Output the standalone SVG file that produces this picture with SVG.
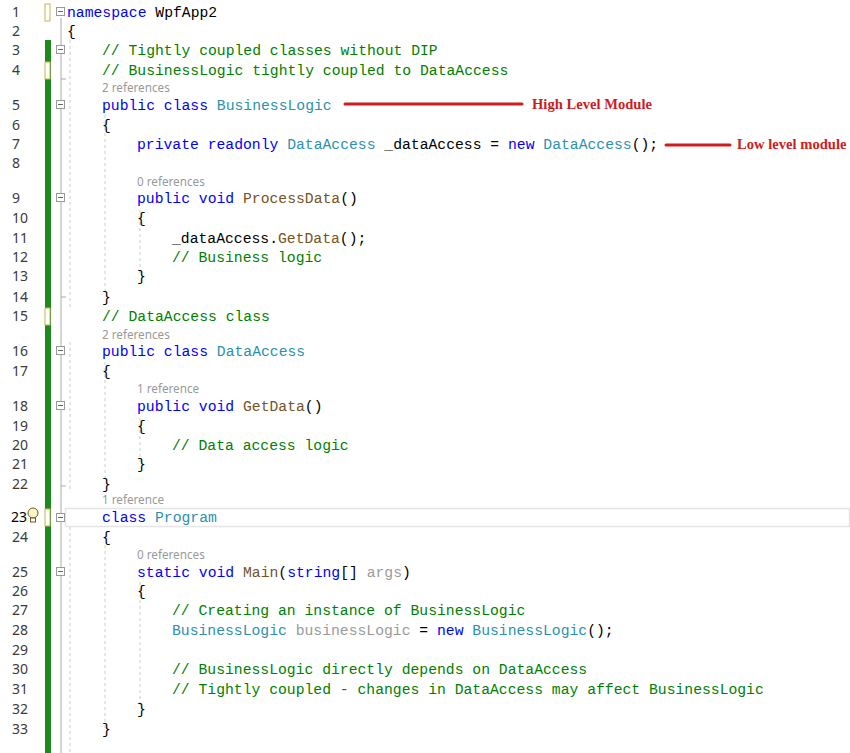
<svg xmlns="http://www.w3.org/2000/svg" width="850" height="753" viewBox="0 0 850 753">
<style>
text{font-family:"Liberation Mono","DejaVu Sans Mono",monospace;font-size:14.72px;white-space:pre}
.n{fill:#3a3a3a;font-family:"Noto Sans","Liberation Sans",sans-serif;font-size:14px}
.k{fill:#0000ff}.t{fill:#2b91af}.c{fill:#008000}.m{fill:#74531f}.p{fill:#000}.g{fill:#9a9a9a}
.r{fill:#999;font-family:"Noto Sans","Liberation Sans",sans-serif;font-size:11.7px}
.a{fill:#d01c1c;font-family:"Liberation Serif",serif;font-weight:bold;font-size:14.6px}
.f{fill:#fff;stroke:#999;stroke-width:1}
.gd{stroke:#ccc;stroke-dasharray:3,3;stroke-width:1}
</style>
<rect width="850" height="753" fill="#fff"/>
<g id="gutter">
<rect x="45" y="40" width="6" height="713" fill="#1e8a1e"/>
<rect x="45" y="4" width="5" height="17" fill="#fff" stroke="#c8b450"/>
<rect x="45" y="62" width="5" height="17" fill="#fff" stroke="#c8b450"/>
<rect x="45" y="308" width="5" height="17" fill="#fff" stroke="#c8b450"/>
<rect x="45" y="509" width="5" height="17" fill="#fff" stroke="#c8b450"/>
<line x1="61" y1="18" x2="61" y2="753" stroke="#aaa"/>
<rect x="65.5" y="508.5" width="784" height="18" fill="none" stroke="#e4e4e4" stroke-width="1.5"/>
<g>
<rect class="f" x="56.5" y="7.5" width="8" height="8"/><path d="M58 11.5h5" stroke="#666"/>
<rect class="f" x="56.5" y="45.5" width="8" height="8"/><path d="M58 49.5h5" stroke="#666"/>
<rect class="f" x="56.5" y="100.5" width="8" height="8"/><path d="M58 104.5h5" stroke="#666"/>
<rect class="f" x="56.5" y="193.5" width="8" height="8"/><path d="M58 197.5h5" stroke="#666"/>
<rect class="f" x="56.5" y="346.5" width="8" height="8"/><path d="M58 350.5h5" stroke="#666"/>
<rect class="f" x="56.5" y="401.5" width="8" height="8"/><path d="M58 405.5h5" stroke="#666"/>
<rect class="f" x="56.5" y="513.5" width="8" height="8"/><path d="M58 517.5h5" stroke="#666"/>
<rect class="f" x="56.5" y="567.5" width="8" height="8"/><path d="M58 571.5h5" stroke="#666"/>
</g>
<path d="M61 79h5M61 297h5M61 486h5" stroke="#aaa"/>
<path d="M70 40V310M70 342V490M70 527V753M105 115V295M105 362V482M105 545V730M140 210V275M140 418V462M140 582V707" class="gd"/>
<g transform="translate(33,516)"><circle cx="0" cy="-3" r="5" fill="#fff6c8" stroke="#6a5a20"/><rect x="-2.5" y="2" width="5" height="4" fill="#fff" stroke="#6a5a20"/></g>
</g>
<g id="linenumbers">
<text class="n" x="12" y="17">1</text><text class="n" x="12" y="36">2</text><text class="n" x="12" y="55">3</text><text class="n" x="12" y="75">4</text>
<text class="n" x="12" y="110">5</text><text class="n" x="12" y="130">6</text><text class="n" x="12" y="149">7</text><text class="n" x="12" y="168">8</text>
<text class="n" x="12" y="203">9</text><text class="n" x="12" y="223">10</text><text class="n" x="12" y="243">11</text><text class="n" x="12" y="262">12</text>
<text class="n" x="12" y="281">13</text><text class="n" x="12" y="302">14</text><text class="n" x="12" y="321">15</text><text class="n" x="12" y="356">16</text>
<text class="n" x="12" y="376">17</text><text class="n" x="12" y="411">18</text><text class="n" x="12" y="431">19</text><text class="n" x="12" y="450">20</text>
<text class="n" x="12" y="469">21</text><text class="n" x="12" y="489">22</text><text class="n" x="11" y="522" style="fill:#000">23</text><text class="n" x="12" y="542">24</text>
<text class="n" x="12" y="577">25</text><text class="n" x="12" y="596">26</text><text class="n" x="12" y="615">27</text><text class="n" x="12" y="635">28</text>
<text class="n" x="12" y="655">29</text><text class="n" x="12" y="674">30</text><text class="n" x="12" y="694">31</text><text class="n" x="12" y="714">32</text>
<text class="n" x="12" y="734">33</text>
</g>
<g id="code">
<text x="67" y="17"><tspan class="k">namespace</tspan><tspan class="p"> WpfApp2</tspan></text>
<text x="67" y="36" class="p">{</text>
<text x="102" y="55" class="c">// Tightly coupled classes without DIP</text>
<text x="102" y="75" class="c">// BusinessLogic tightly coupled to DataAccess</text>
<text x="102" y="92" class="r">2 references</text>
<text x="102" y="110"><tspan class="k">public class</tspan><tspan class="p"> </tspan><tspan class="t">BusinessLogic</tspan></text>
<text x="102" y="130" class="p">{</text>
<text x="137" y="149"><tspan class="k">private readonly</tspan><tspan class="p"> </tspan><tspan class="t">DataAccess</tspan><tspan class="p"> _dataAccess = </tspan><tspan class="k">new</tspan><tspan class="p"> </tspan><tspan class="t">DataAccess</tspan><tspan class="p">();</tspan></text>
<text x="137" y="186" class="r">0 references</text>
<text x="137" y="203"><tspan class="k">public void</tspan><tspan class="p"> </tspan><tspan class="m">ProcessData</tspan><tspan class="p">()</tspan></text>
<text x="137" y="223" class="p">{</text>
<text x="172" y="243"><tspan class="p">_dataAccess.</tspan><tspan class="m">GetData</tspan><tspan class="p">();</tspan></text>
<text x="172" y="262" class="c">// Business logic</text>
<text x="137" y="281" class="p">}</text>
<text x="102" y="302" class="p">}</text>
<text x="102" y="321" class="c">// DataAccess class</text>
<text x="102" y="339" class="r">2 references</text>
<text x="102" y="356"><tspan class="k">public class</tspan><tspan class="p"> </tspan><tspan class="t">DataAccess</tspan></text>
<text x="102" y="376" class="p">{</text>
<text x="137" y="393" class="r">1 reference</text>
<text x="137" y="411"><tspan class="k">public void</tspan><tspan class="p"> </tspan><tspan class="m">GetData</tspan><tspan class="p">()</tspan></text>
<text x="137" y="431" class="p">{</text>
<text x="172" y="450" class="c">// Data access logic</text>
<text x="137" y="469" class="p">}</text>
<text x="102" y="489" class="p">}</text>
<text x="102" y="504" class="r">1 reference</text>
<text x="102" y="522"><tspan class="k">class</tspan><tspan class="p"> </tspan><tspan class="t">Program</tspan></text>
<text x="102" y="542" class="p">{</text>
<text x="137" y="559" class="r">0 references</text>
<text x="137" y="577"><tspan class="k">static void</tspan><tspan class="p"> </tspan><tspan class="m">Main</tspan><tspan class="p">(</tspan><tspan class="k">string</tspan><tspan class="p">[] </tspan><tspan class="g">args</tspan><tspan class="p">)</tspan></text>
<text x="137" y="596" class="p">{</text>
<text x="172" y="615" class="c">// Creating an instance of BusinessLogic</text>
<text x="172" y="635"><tspan class="t">BusinessLogic</tspan><tspan class="p"> </tspan><tspan class="g">businessLogic</tspan><tspan class="p"> = </tspan><tspan class="k">new</tspan><tspan class="p"> </tspan><tspan class="t">BusinessLogic</tspan><tspan class="p">();</tspan></text>
<text x="172" y="674" class="c">// BusinessLogic directly depends on DataAccess</text>
<text x="172" y="694" class="c">// Tightly coupled - changes in DataAccess may affect BusinessLogic</text>
<text x="137" y="714" class="p">}</text>
<text x="102" y="734" class="p">}</text>
</g>
<g id="connectors">
<line x1="345" y1="104" x2="522" y2="104" stroke="#d01c1c" stroke-width="3" stroke-linecap="round"/>
<line x1="666" y1="145" x2="730" y2="145" stroke="#d01c1c" stroke-width="3" stroke-linecap="round"/>
</g>
<g id="annotations">
<text class="a" x="532" y="109">High Level Module</text>
<text class="a" x="737" y="149">Low level module</text>
</g>
</svg>
